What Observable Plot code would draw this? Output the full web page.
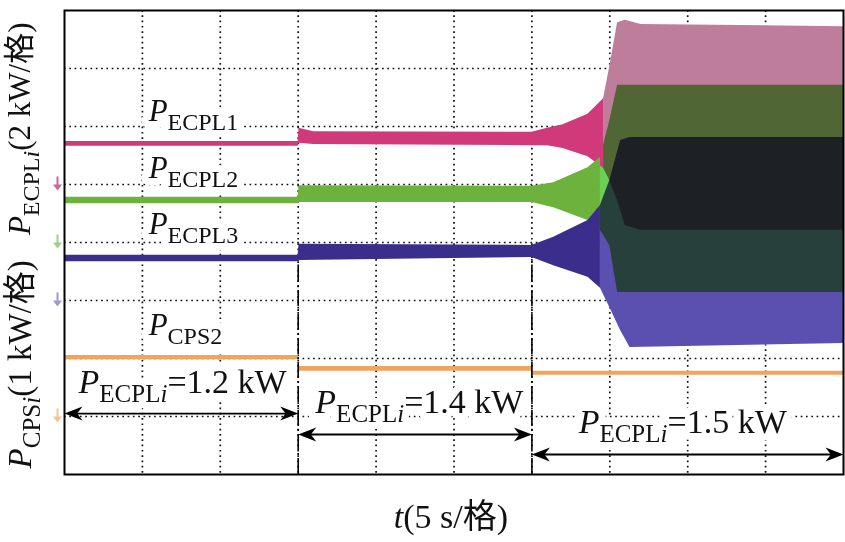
<!DOCTYPE html>
<html><head><meta charset="utf-8">
<script src="https://cdn.jsdelivr.net/npm/d3@7"></script>
<script src="https://cdn.jsdelivr.net/npm/@observablehq/plot@0.6"></script>
<style>html,body{margin:0;padding:0;background:#fff;} #chart svg{display:block;}</style>
</head><body><div id="chart"></div>
<script>
// ---- data (time in s, 5 s per division; amplitude in screen divisions) ----
const gridT = [5, 10, 15, 20, 25, 30, 35, 40, 45];
const gridDiv = [1, 2, 3, 4, 5, 6, 7];
const phaseStart = [0, 15, 30];
const phaseEnd = [15, 30, 50];
const phaseLoad = ["1.2", "1.4", "1.5"];
const channelNames = ["ECPL1", "ECPL2", "ECPL3", "CPS2"];
const channelGround = [5, 4, 3, 1];

// P_ECPL1 envelope (upper / lower edge of the oscillating trace)
const ecpl1T  = [0, 15, 15.05, 16, 30, 31, 32, 33.6, 34.6, 35.0, 35.5, 36.0, 37.0, 50];
const ecpl1Hi = [5.74, 5.74, 5.97, 5.91, 5.90, 5.97, 6.03, 6.21, 6.48, 7.03, 7.79, 7.83, 7.76, 7.72];
const ecpl1Lo = [5.66, 5.66, 5.71, 5.69, 5.67, 5.67, 5.62, 5.48, 5.28, 5.07, 4.72, 4.29, 4.21, 4.21];
// P_ECPL2
const ecpl2T  = [0, 15, 15.05, 30, 31.4, 33.6, 34.4, 35.0, 35.5, 50];
const ecpl2Hi = [4.78, 4.78, 4.98, 4.97, 5.03, 5.29, 5.47, 6.10, 6.71, 6.71];
const ecpl2Lo = [4.67, 4.67, 4.69, 4.69, 4.60, 4.38, 4.21, 3.95, 3.14, 3.14];
// P_ECPL3
const ecpl3T  = [0, 15, 15.05, 30, 31.4, 33.6, 34.4, 35.0, 35.7, 36.3, 50];
const ecpl3Hi = [3.78, 3.78, 3.97, 3.95, 4.09, 4.38, 4.64, 5.07, 5.76, 5.81, 5.81];
const ecpl3Lo = [3.67, 3.67, 3.69, 3.74, 3.60, 3.40, 3.21, 2.88, 2.48, 2.19, 2.26];
// P_CPS2 (step)
const cps2T  = [0, 15, 30, 50];
const cps2Hi = [2.05, 1.86, 1.78, 1.78];
const cps2Lo = [1.98, 1.78, 1.71, 1.71];

// ---- build ----
const serif = "'Liberation Serif','Times New Roman','Noto Sans CJK SC',serif";
const rows = (t, hi, lo) => t.map((v, i) => ({t: v, hi: hi[i], lo: lo[i]}));
const traces = [
  {data: rows(ecpl1T, ecpl1Hi, ecpl1Lo), core: "#d03a7a", tint: "#bd7d9b"},
  {data: rows(ecpl2T, ecpl2Hi, ecpl2Lo), core: "#6cb23c", tint: "#6ccf56"},
  {data: rows(ecpl3T, ecpl3Hi, ecpl3Lo), core: "#3b2d8c", tint: "#5b4fb0"}
];
const cps2 = rows(cps2T, cps2Hi, cps2Lo);
const CUT = 34.6;

// rich text specs: [text, style] ; style: i italic, s subscript, si subscript italic, n normal
const rich = new Map();
function addRich(parts, size, subSize, shift) {
  const plain = parts.map(p => p[0]).join("");
  rich.set(plain, {parts, size, subSize, shift});
  return plain;
}
const traceLabelPos = [[5.4, 6.10], [5.4, 5.12], [5.4, 4.155], [5.4, 2.40]];
const traceLabels = channelNames.map((n, i) => ({
  t: traceLabelPos[i][0], y: traceLabelPos[i][1],
  text: addRich([["P", "i"], [n, "s"]], 31, 24, 9)
}));
const phaseLabelPos = [[0.9, 1.40], [16.1, 1.06], [33.0, 0.72]];
const phaseLabels = phaseLoad.map((l, i) => ({
  t: phaseLabelPos[i][0], y: phaseLabelPos[i][1],
  text: addRich([["P", "i"], ["ECPL", "s"], ["i", "si"], ["=" + l + " kW", "n"]], 34, 25, 9)
}));
const axisLabels = [
  {t: -2.85, y: 5.96, fs: 31, text: addRich([["P", "i"], ["ECPL", "s"], ["i", "si"], ["(2 kW/格)", "n"]], 31, 24, 9)},
  {t: -2.85, y: 1.90, fs: 33, text: addRich([["P", "i"], ["CPS", "s"], ["i", "si"], ["(1 kW/格)", "n"]], 33, 25, 9)}
];
const timeLabel = [{t: 24.8, y: -0.93, text: addRich([["t", "i"], ["(5 s/格)", "n"]], 34, 34, 0)}];

const arrowY = [1.05, 0.69, 0.345];
const phases = phaseStart.map((s, i) => ({s, e: phaseEnd[i], y: arrowY[i]}));
const heads = phases.flatMap(p => [{t: p.s, y: p.y, rot: 180}, {t: p.e, y: p.y, rot: 0}]);
const stealth = {draw(ctx) {
  const L = 18, Wd = 7;
  ctx.moveTo(0, 0); ctx.lineTo(-L, -Wd); ctx.lineTo(-L * 0.7, 0); ctx.lineTo(-L, Wd); ctx.closePath();
}};
const groundSym = {draw(ctx) {
  ctx.moveTo(-4.5, 0); ctx.lineTo(4.5, 0); ctx.lineTo(0, 6); ctx.closePath();
  ctx.moveTo(-1, -8); ctx.lineTo(1, -8); ctx.lineTo(1, 0); ctx.lineTo(-1, 0); ctx.closePath();
}};
const markerColors = ["#d2609a", "#9fcf8a", "#a596d4", "#f2c48e"];
const markers = channelGround.map((g, i) => ({y: g, c: markerColors[i]}));
const boundaries = [15, 30].map(t => ({t, top: ecpl3Lo[ecpl3T.indexOf(t)]}));

const gridStyle = {stroke: "#111", strokeWidth: 1.7, strokeDasharray: "1.7,3.6"};
const textBase = {x: "t", y: "y", text: "text", fontFamily: serif, fill: "#111"};
const halo = {fill: "white", stroke: "white", strokeWidth: 14};

const chart = Plot.plot({
  width: 845, height: 542,
  marginLeft: 64, marginRight: 2, marginTop: 10, marginBottom: 68,
  x: {domain: [0, 50], axis: null},
  y: {domain: [0, 8], axis: null},
  style: {background: "white", overflow: "visible"},
  marks: [
    Plot.ruleX(gridT, gridStyle),
    Plot.ruleY(gridDiv, gridStyle),
    ...traces.map(tr => Plot.areaY(tr.data.filter(d => d.t >= 34.4), {x: "t", y1: "lo", y2: "hi", fill: "white"})),
    ...traces.map(tr => Plot.areaY(tr.data.filter(d => d.t >= 34.4), {x: "t", y1: "lo", y2: "hi", fill: tr.tint, mixBlendMode: "multiply"})),
    ...traces.map(tr => Plot.areaY(tr.data.filter(d => d.t <= CUT), {x: "t", y1: "lo", y2: "hi", fill: tr.core})),
    Plot.areaY(cps2, {x: "t", y1: "lo", y2: "hi", fill: "#f0a45c", curve: "step-after"}),
    Plot.text(traceLabels, {...textBase, ...halo, textAnchor: "start", lineAnchor: "bottom", fontSize: 31}),
    Plot.text(phaseLabels, {...textBase, ...halo, textAnchor: "start", lineAnchor: "bottom", fontSize: 34}),
    Plot.text(traceLabels, {...textBase, textAnchor: "start", lineAnchor: "bottom", fontSize: 31}),
    Plot.text(phaseLabels, {...textBase, textAnchor: "start", lineAnchor: "bottom", fontSize: 34}),
    Plot.ruleX(boundaries, {x: "t", y1: 0, y2: "top", stroke: "#000", strokeWidth: 1.6, strokeDasharray: "16,3,2,3"}),
    Plot.ruleY(phases, {y: "y", x1: "s", x2: "e", stroke: "#000", strokeWidth: 1.8, insetLeft: 8, insetRight: 8}),
    Plot.dot(heads, {x: "t", y: "y", rotate: "rot", symbol: stealth, fill: "#000", strokeWidth: 0}),
    Plot.dot(markers, {x: 0, y: "y", dx: -7, symbol: groundSym, fill: "c", strokeWidth: 0}),
    Plot.text(axisLabels, {...textBase, fontSize: "fs", rotate: -90, textAnchor: "middle", lineAnchor: "middle"}),
    Plot.text(timeLabel, {...textBase, textAnchor: "middle", lineAnchor: "bottom", fontSize: 34}),
    Plot.frame({stroke: "#000", strokeWidth: 2})
  ]
});

// turn plain label strings into italic / subscript tspans
const NS = "http://www.w3.org/2000/svg";
chart.querySelectorAll("text").forEach(node => {
  const spec = rich.get(node.textContent);
  if (!spec) return;
  while (node.firstChild) node.removeChild(node.firstChild);
  let off = 0;
  for (const [str, style] of spec.parts) {
    const ts = document.createElementNS(NS, "tspan");
    const sub = style.includes("s");
    const want = sub ? spec.shift : 0;
    if (want !== off) { ts.setAttribute("dy", want - off); off = want; }
    ts.setAttribute("font-size", sub ? spec.subSize : spec.size);
    if (style.includes("i")) ts.setAttribute("font-style", "italic");
    ts.textContent = str;
    node.appendChild(ts);
  }
  node.setAttribute("stroke-linejoin", "round");
});
document.getElementById("chart").appendChild(chart);
</script>
</body></html>
